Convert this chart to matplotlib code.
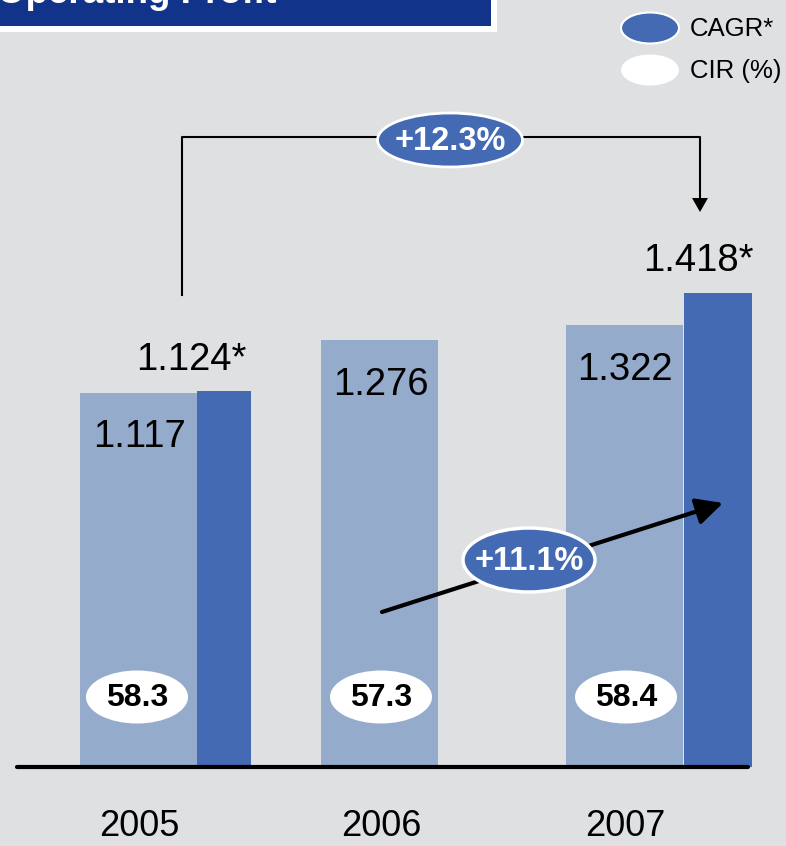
import matplotlib.pyplot as plt
from matplotlib.patches import Ellipse, Rectangle, Polygon

plt.rcParams['font.family'] = ['Liberation Sans', 'DejaVu Sans']

years = ['2005', '2006', '2007']
op_profit = [1.117, 1.276, 1.322]
op_adjusted = [1.124, None, 1.418]
cir = [58.3, 57.3, 58.4]
cagr_adjusted = '+12.3%'
cagr_reported = '+11.1%'

BG = '#dfe0e2'
LIGHT = '#95abcb'
DARK = '#436ab3'
NAVY = '#12338a'

W, H = 786, 846
base_px = 767          # baseline row
px_per_unit = 334.6    # vertical scale

fig = plt.figure(figsize=(W / 100, H / 100), dpi=100, facecolor=BG)

# bar axes: x in pixel columns, y in value units
ax = fig.add_axes([0, 0, 1, 1])
ax.set_xlim(0, W)
ax.set_ylim(-(H - base_px) / px_per_unit, base_px / px_per_unit)
ax.axis('off')

light_left = [80, 321, 566]
light_w = 117
dark_left = [197, None, 684]
dark_w = [54, None, 68]

ax.bar(light_left, op_profit, width=light_w, align='edge', color=LIGHT, zorder=2)
for i, v in enumerate(op_adjusted):
    if v is not None:
        ax.bar(dark_left[i], v, width=dark_w[i], align='edge', color=DARK, zorder=2)

# value labels
lab_fs = 27.5
ax.annotate(f'{op_profit[0]:.3f}', (140, op_profit[0]), xytext=(0, -44), textcoords='offset pixels',
            ha='center', va='center', fontsize=lab_fs, zorder=5)
ax.annotate(f'{op_adjusted[0]:.3f}*', (191, op_adjusted[0]), xytext=(0, 31), textcoords='offset pixels',
            ha='center', va='center', fontsize=lab_fs, zorder=5)
ax.annotate(f'{op_profit[1]:.3f}', (381, op_profit[1]), xytext=(0, -45), textcoords='offset pixels',
            ha='center', va='center', fontsize=lab_fs, zorder=5)
ax.annotate(f'{op_profit[2]:.3f}', (625, op_profit[2]), xytext=(0, -45), textcoords='offset pixels',
            ha='center', va='center', fontsize=lab_fs, zorder=5)
ax.annotate(f'{op_adjusted[2]:.3f}*', (698, op_adjusted[2]), xytext=(0, 32), textcoords='offset pixels',
            ha='center', va='center', fontsize=lab_fs, zorder=5)

# overlay in pixel coordinates for the decorations
ov = fig.add_axes([0, 0, 1, 1])
ov.set_xlim(0, W)
ov.set_ylim(H, 0)
ov.axis('off')
ov.patch.set_alpha(0)

# baseline
ov.plot([17, 748], [base_px, base_px], color='black', lw=3, solid_capstyle='round', zorder=4)

# year labels
for x, y in zip([139, 381, 625], years):
    ov.text(x, 836, y, ha='center', va='baseline', fontsize=26)

# title banner
ov.add_patch(Rectangle((-10, -10), 507, 42, fc='white', ec='none', zorder=3))
ov.add_patch(Rectangle((-10, -10), 501, 36, fc=NAVY, ec='none', zorder=3))
ov.text(-3, 3, 'Operating Profit', color='white', fontsize=26.5, fontweight='bold',
        ha='left', va='baseline', zorder=4)

# legend
ov.add_patch(Ellipse((650, 28), 58, 31, fc=DARK, ec='white', lw=1.5, zorder=3))
ov.text(690, 29, 'CAGR*', fontsize=18.5, ha='left', va='center')
ov.add_patch(Ellipse((650, 70), 58, 31, fc='white', ec='none', zorder=3))
ov.text(690, 71, 'CIR (%)', fontsize=18.5, ha='left', va='center')

# bracket arrow for adjusted growth
ov.plot([182, 182, 700, 700], [295, 137, 137, 200], color='black', lw=1.5, zorder=3)
ov.add_patch(Polygon([(692, 198), (708, 198), (700, 212)], closed=True, fc='black', ec='none', zorder=3))
ov.add_patch(Ellipse((450, 140), 145, 54, fc=DARK, ec='white', lw=2, zorder=4))
ov.text(450, 141, cagr_adjusted, color='white', fontsize=23.5, fontweight='bold',
        ha='center', va='center', zorder=5)

# diagonal arrow for reported growth
ov.annotate('', xy=(723, 503), xytext=(382, 612),
            arrowprops=dict(arrowstyle='-|>', color='black', lw=3, mutation_scale=40,
                            shrinkA=0, shrinkB=0), zorder=3)
ov.add_patch(Ellipse((529, 560), 132, 64, fc=DARK, ec='white', lw=2.5, zorder=4))
ov.text(529, 561, cagr_reported, color='white', fontsize=23.5, fontweight='bold',
        ha='center', va='center', zorder=5)

# CIR badges
for x, c in zip([137, 381, 626], cir):
    ov.add_patch(Ellipse((x, 697), 102, 53, fc='white', ec='none', zorder=4))
    ov.text(x, 698, f'{c:.1f}', fontsize=23, fontweight='bold', ha='center', va='center', zorder=5)

fig.savefig('out.png', dpi=100, facecolor=BG)
